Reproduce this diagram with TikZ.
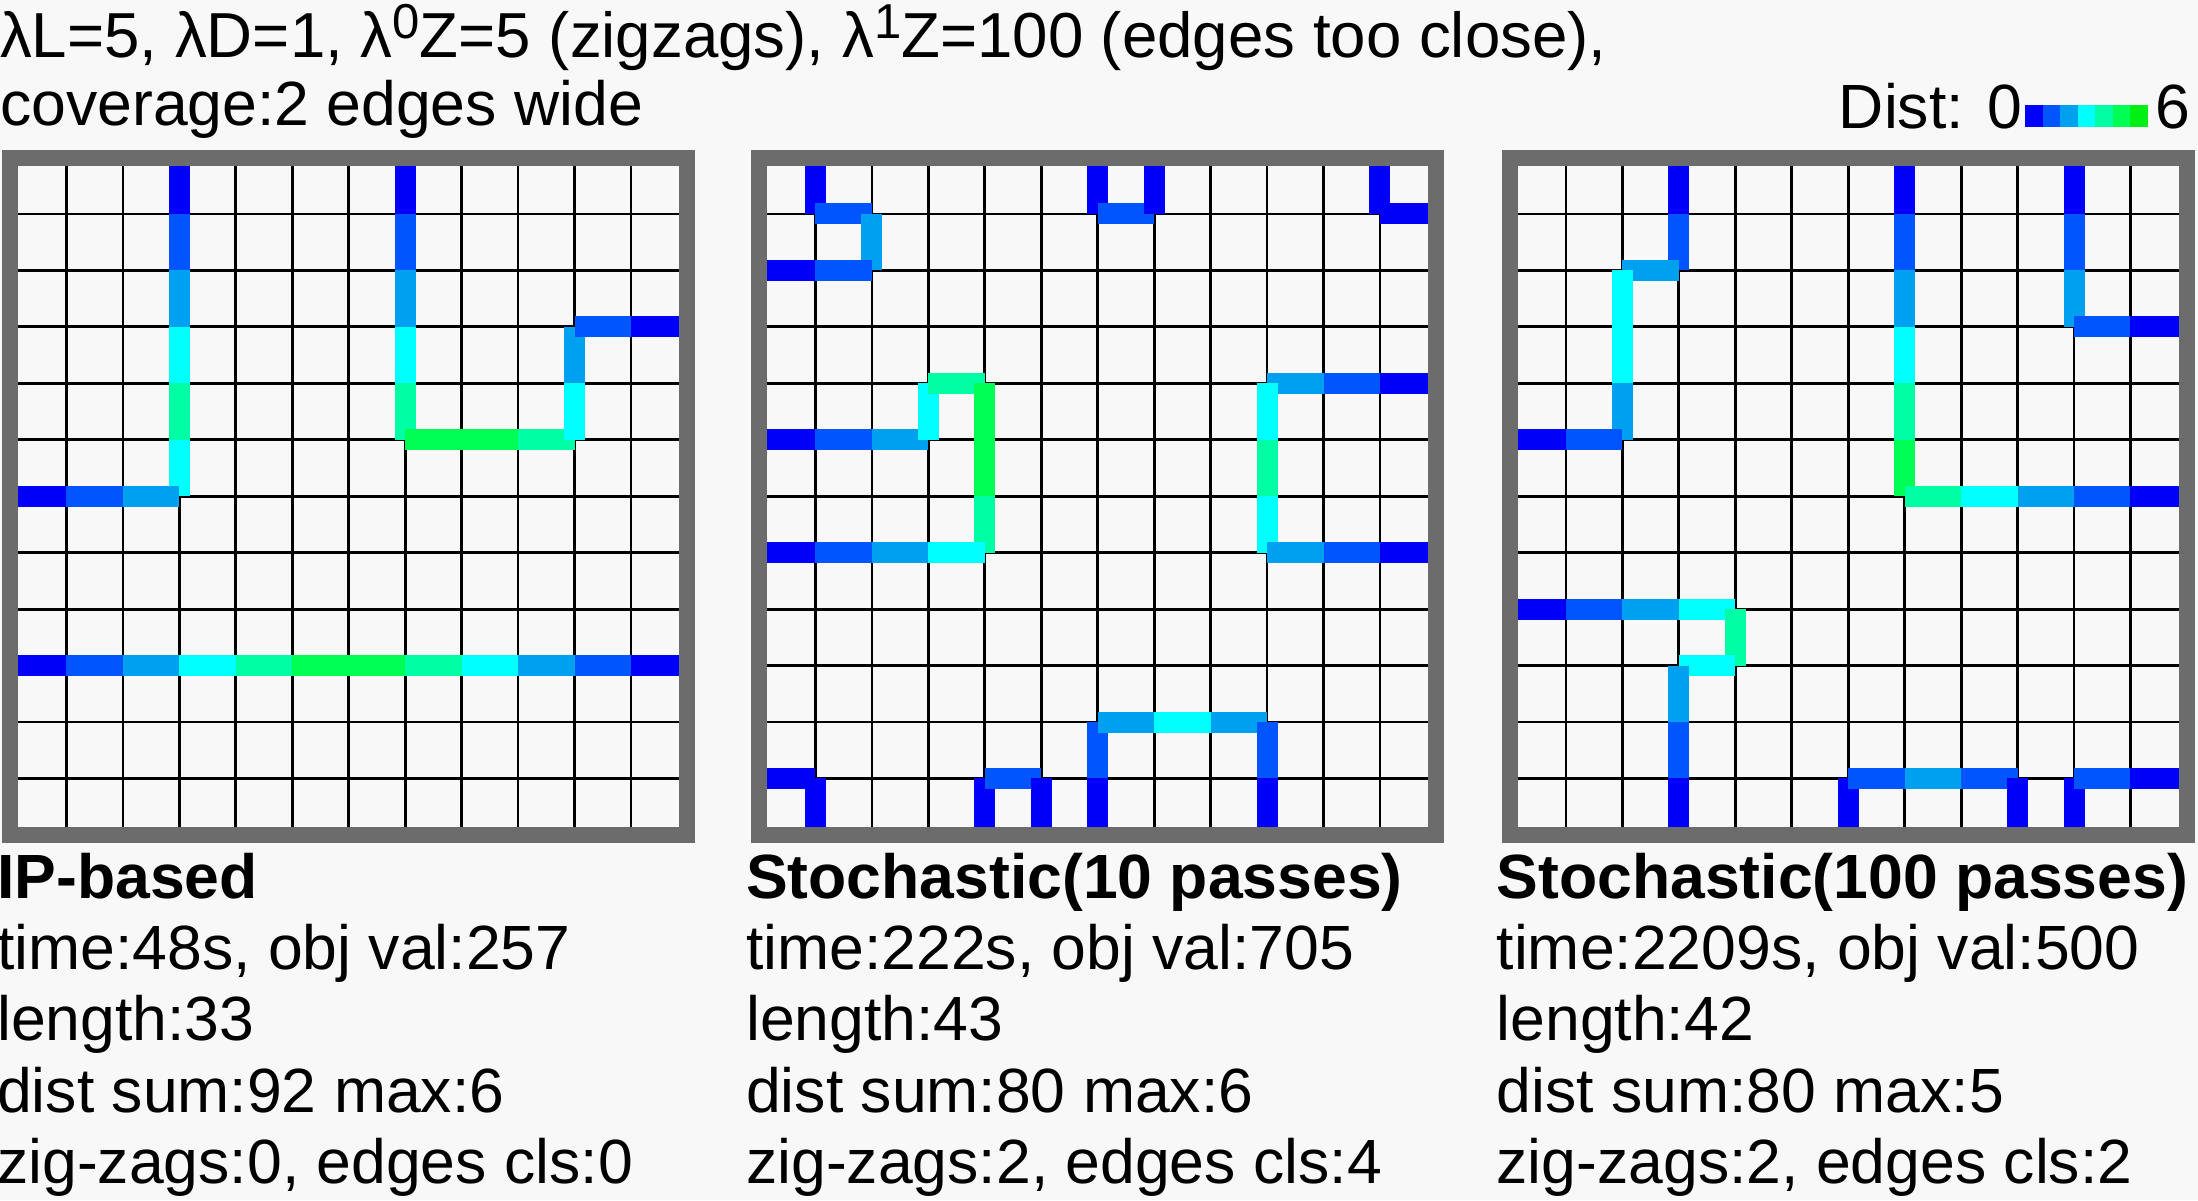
\documentclass[tikz,border=0pt]{standalone}
\usepackage{fontspec}
\setmainfont{Liberation Sans}
\definecolor{c0}{RGB}{0,0,250}
\definecolor{c1}{RGB}{0,85,255}
\definecolor{c2}{RGB}{0,160,240}
\definecolor{c3}{RGB}{0,255,255}
\definecolor{c4}{RGB}{0,255,165}
\definecolor{c5}{RGB}{0,255,85}
\definecolor{c6}{RGB}{0,240,20}
\definecolor{bgc}{RGB}{248,248,248}
\definecolor{frc}{RGB}{108,108,108}
\newcommand{\supd}[1]{\raisebox{19pt}{\fontsize{49}{49}\selectfont #1}}
\tikzset{
  gl/.style={black, line width=2.8pt},
  frm/.style={frc, line width=16pt},
  eg/.style={line width=21pt, line cap=butt},
  txt/.style={font=\fontsize{62.5}{71.5}\selectfont, inner sep=0pt, anchor=base west},
  ttxt/.style={txt, font=\fontsize{63.6}{71.5}\selectfont},
  btxt/.style={txt, font=\fontsize{62.5}{71.5}\selectfont\bfseries},
}
\begin{document}
\begin{tikzpicture}[x=1pt,y=-1pt]
\useasboundingbox (0,0) rectangle (2198,1200);
\fill[bgc] (0,0) rectangle (2198,1200);

% ---------- Grid 1 ----------
\begin{scope}[shift={(10,157.5)}, x=56.45pt, y=-56.45pt]
  \foreach \k in {1,...,11} {\draw[gl] (\k,0) -- (\k,12); \draw[gl] (0,\k) -- (12,\k);}
  \foreach \c/\a/\b/\p/\q in {
    c0/3/0/3/1, c1/3/1/3/2, c2/3/2/3/3, c3/3/3/3/4, c4/3/4/3/5, c3/3/5/3/6,
    c2/3/6/2/6, c1/2/6/1/6, c0/1/6/0/6,
    c0/7/0/7/1, c1/7/1/7/2, c2/7/2/7/3, c3/7/3/7/4, c4/7/4/7/5,
    c5/7/5/8/5, c5/8/5/9/5, c4/9/5/10/5, c3/10/5/10/4, c2/10/4/10/3,
    c1/10/3/11/3, c0/11/3/12/3,
    c0/0/9/1/9, c1/1/9/2/9, c2/2/9/3/9, c3/3/9/4/9, c4/4/9/5/9, c5/5/9/6/9,
    c5/6/9/7/9, c4/7/9/8/9, c3/8/9/9/9, c2/9/9/10/9, c1/10/9/11/9, c0/11/9/12/9}
    {\draw[eg,\c] (\a,\b) -- (\p,\q);}
  \draw[frm] (0,0) rectangle (12,12);
\end{scope}

% ---------- Grid 2 ----------
\begin{scope}[shift={(759,157.5)}, x=56.45pt, y=-56.45pt]
  \foreach \k in {1,...,11} {\draw[gl] (\k,0) -- (\k,12); \draw[gl] (0,\k) -- (12,\k);}
  \foreach \c/\a/\b/\p/\q in {
    c0/1/0/1/1, c1/1/1/2/1, c2/2/1/2/2, c1/2/2/1/2, c0/1/2/0/2,
    c0/6/0/6/1, c1/6/1/7/1, c0/7/1/7/0,
    c0/11/0/11/1, c0/11/1/12/1,
    c0/0/5/1/5, c1/1/5/2/5, c2/2/5/3/5, c3/3/5/3/4, c4/3/4/4/4, c5/4/4/4/5,
    c5/4/5/4/6, c4/4/6/4/7, c3/4/7/3/7, c2/3/7/2/7, c1/2/7/1/7, c0/1/7/0/7,
    c0/12/4/11/4, c1/11/4/10/4, c2/10/4/9/4, c3/9/4/9/5, c4/9/5/9/6,
    c3/9/6/9/7, c2/9/7/10/7, c1/10/7/11/7, c0/11/7/12/7,
    c0/6/12/6/11, c1/6/11/6/10, c2/6/10/7/10, c3/7/10/8/10, c2/8/10/9/10,
    c1/9/10/9/11, c0/9/11/9/12,
    c0/0/11/1/11, c0/1/11/1/12,
    c0/4/12/4/11, c1/4/11/5/11, c0/5/11/5/12}
    {\draw[eg,\c] (\a,\b) -- (\p,\q);}
  \draw[frm] (0,0) rectangle (12,12);
\end{scope}

% ---------- Grid 3 ----------
\begin{scope}[shift={(1509.5,157.5)}, x=56.45pt, y=-56.45pt]
  \foreach \k in {1,...,11} {\draw[gl] (\k,0) -- (\k,12); \draw[gl] (0,\k) -- (12,\k);}
  \foreach \c/\a/\b/\p/\q in {
    c0/3/0/3/1, c1/3/1/3/2, c2/3/2/2/2, c3/2/2/2/3, c3/2/3/2/4, c2/2/4/2/5,
    c1/2/5/1/5, c0/1/5/0/5,
    c0/7/0/7/1, c1/7/1/7/2, c2/7/2/7/3, c3/7/3/7/4, c4/7/4/7/5, c5/7/5/7/6,
    c4/7/6/8/6, c3/8/6/9/6, c2/9/6/10/6, c1/10/6/11/6, c0/11/6/12/6,
    c0/10/0/10/1, c1/10/1/10/2, c2/10/2/10/3, c1/10/3/11/3, c0/11/3/12/3,
    c0/0/8/1/8, c1/1/8/2/8, c2/2/8/3/8, c3/3/8/4/8, c4/4/8/4/9, c3/4/9/3/9,
    c2/3/9/3/10, c1/3/10/3/11, c0/3/11/3/12,
    c0/6/12/6/11, c1/6/11/7/11, c2/7/11/8/11, c1/8/11/9/11, c0/9/11/9/12,
    c0/10/12/10/11, c1/10/11/11/11, c0/11/11/12/11}
    {\draw[eg,\c] (\a,\b) -- (\p,\q);}
  \draw[frm] (0,0) rectangle (12,12);
\end{scope}

% ---------- Title ----------
\node[ttxt] (t1) at (0,57) {λL=5, λD=1, λ\supd{0}Z=5 (zigzags), λ\supd{1}Z=100 (edges too close),};
\node[txt] (t2) at (0,125) {coverage:2 edges wide};

% ---------- Colour bar ----------
\node[txt, anchor=base east] (dl) at (2022,128) {Dist: 0};
\foreach \c [count=\i from 0] in {c0,c1,c2,c3,c4,c5,c6}
  {\fill[\c] ({2025+\i*17.57},105) rectangle ({2025+(\i+1)*17.57+0.3},127);}
\node[txt] (dr) at (2155,128) {6};

% ---------- Captions ----------
\node[btxt] (a0) at (-3,898) {IP-based};
\node[txt] (a1) at (-3,969) {time:48s, obj val:257};
\node[txt] (a2) at (-3,1040.5) {length:33};
\node[txt] (a3) at (-3,1112) {dist sum:92 max:6};
\node[txt] (a4) at (-3,1183.5) {zig-zags:0, edges cls:0};

\node[btxt] (b0) at (746,898) {Stochastic(10 passes)};
\node[txt] (b1) at (746,969) {time:222s, obj val:705};
\node[txt] (b2) at (746,1040.5) {length:43};
\node[txt] (b3) at (746,1112) {dist sum:80 max:6};
\node[txt] (b4) at (746,1183.5) {zig-zags:2, edges cls:4};

\node[btxt] (g0) at (1496.5,898) {Stochastic(100 passes)};
\node[txt] (g1) at (1496.5,969) {time:2209s, obj val:500};
\node[txt] (g2) at (1496.5,1040.5) {length:42};
\node[txt] (g3) at (1496.5,1112) {dist sum:80 max:5};
\node[txt] (g4) at (1496.5,1183.5) {zig-zags:2, edges cls:2};
\end{tikzpicture}
\end{document}
